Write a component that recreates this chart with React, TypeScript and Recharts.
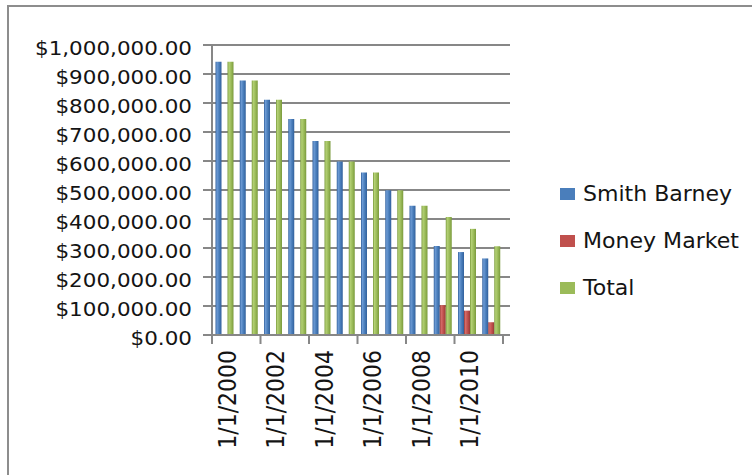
import React from 'react';
import { BarChart, Bar, XAxis, YAxis, CartesianGrid } from 'recharts';

const categories = ['1/1/2000', '1/1/2001', '1/1/2002', '1/1/2003', '1/1/2004', '1/1/2005', '1/1/2006', '1/1/2007', '1/1/2008', '1/1/2009', '1/1/2010', '1/1/2011'];
const smithBarney = [942000, 878000, 811000, 745000, 669000, 598000, 560000, 499000, 446000, 307000, 286000, 264000];
const moneyMarket = [0, 0, 0, 0, 0, 0, 0, 0, 0, 103000, 84000, 44000];
const total = [942000, 878000, 811000, 745000, 669000, 598000, 560000, 499000, 446000, 407000, 366000, 306000];
const yTicks = [0, 100000, 200000, 300000, 400000, 500000, 600000, 700000, 800000, 900000, 1000000];

const seriesNames = ['Smith Barney', 'Money Market', 'Total'];
const seriesKeys = ['sb', 'mm', 'total'];
const seriesColors = ['#4a7ebb', '#c0504d', '#9bbb59'];
const seriesLight = ['#6c9ad4', '#d56b68', '#b3d074'];
const seriesDark = ['#31609c', '#983936', '#7a9a3c'];

const data = categories.map((c, i) => ({ date: c, sb: smithBarney[i], mm: moneyMarket[i], total: total[i] }));

const CHART_W = 740;
const CHART_H = 468;
const PLOT_LEFT = 203;
const PLOT_TOP = 38;
const PLOT_H = 290;
const CAT_W = 291;
const EXTRA = 7;
const BAND = CAT_W / categories.length;
const AXIS_COLOR = '#878787';
const FONT = '"DejaVu Sans", sans-serif';

const fmtMoney = (v: number) =>
  '$' + v.toLocaleString('en-US', { minimumFractionDigits: 2, maximumFractionDigits: 2 });

const YTick = (props: any) => {
  const { x, y, payload } = props;
  return (
    <text transform={`translate(${x}, ${y + 3}) scale(1.13, 1)`} x={0} y={0} textAnchor="end" dominantBaseline="central" fontFamily={FONT} fontSize={19} fill="#141414">
      {fmtMoney(payload.value)}
    </text>
  );
};

const XTick = (props: any) => {
  const { x, y, index } = props;
  const axisY = y - 15;
  const parts: React.ReactNode[] = [];
  if (index % 2 === 0) {
    const bx = x - BAND / 2;
    parts.push(<line key="t" x1={bx} y1={axisY} x2={bx} y2={axisY + 9} stroke={AXIS_COLOR} strokeWidth={2} />);
    parts.push(
      <text key="l" transform={`translate(${x + 3}, ${y}) scale(1.12, 1) rotate(-90)`} x={0} y={0} textAnchor="end" dominantBaseline="central" fontFamily={FONT} fontSize={22} fill="#141414">
        {categories[index]}
      </text>
    );
  }
  if (index === categories.length - 1) {
    const bx = x + BAND / 2;
    parts.push(<line key="e" x1={bx} y1={axisY} x2={bx} y2={axisY + 9} stroke={AXIS_COLOR} strokeWidth={2} />);
  }
  return <g>{parts}</g>;
};

export default function App() {
  return (
    <div
      style={{
        position: 'fixed',
        left: 7,
        top: 5,
        width: 800,
        height: 520,
        border: '2px solid #8d8d8d',
        background: '#ffffff',
      }}
    >
      <div style={{ position: 'absolute', left: 0, top: 0, width: CHART_W, height: CHART_H }}>
        <BarChart
          width={CHART_W}
          height={CHART_H}
          data={data}
          margin={{ top: PLOT_TOP, left: 0, bottom: 0, right: CHART_W - PLOT_LEFT - CAT_W - EXTRA }}
          barCategoryGap={3.5}
          barGap={0}
        >
          <defs>
            {seriesKeys.map((k, i) => (
              <linearGradient key={k} id={`g-${k}`} x1="0" y1="0" x2="1" y2="0">
                <stop offset="0%" stopColor={seriesDark[i]} />
                <stop offset="25%" stopColor={seriesLight[i]} />
                <stop offset="60%" stopColor={seriesColors[i]} />
                <stop offset="100%" stopColor={seriesDark[i]} />
              </linearGradient>
            ))}
          </defs>
          <CartesianGrid vertical={false} stroke={AXIS_COLOR} strokeWidth={2} />
          <XAxis
            dataKey="date"
            interval={0}
            height={CHART_H - PLOT_TOP - PLOT_H}
            padding={{ left: 0, right: EXTRA }}
            tickLine={false}
            tickSize={9}
            tickMargin={6}
            axisLine={{ stroke: AXIS_COLOR, strokeWidth: 2 }}
            tick={<XTick />}
          />
          <YAxis
            width={PLOT_LEFT}
            domain={[0, 1000000]}
            ticks={yTicks}
            interval={0}
            tickSize={9}
            tickMargin={11}
            axisLine={{ stroke: AXIS_COLOR, strokeWidth: 2 }}
            tickLine={{ stroke: AXIS_COLOR, strokeWidth: 2 }}
            tick={<YTick />}
          />
          {seriesKeys.map((k, i) => (
            <Bar key={k} dataKey={k} name={seriesNames[i]} fill={`url(#g-${k})`} isAnimationActive={false} />
          ))}
        </BarChart>
        <div style={{ position: 'absolute', left: 551, top: 163.5, fontFamily: FONT, fontSize: 21, color: '#141414' }}>
          {seriesNames.map((n, i) => (
            <div key={n} style={{ height: 47, display: 'flex', alignItems: 'center', whiteSpace: 'nowrap' }}>
              <span style={{ display: 'inline-block', width: 15, height: 12, background: seriesColors[i], marginRight: 8 }} />
              <span style={{ display: 'inline-block', transform: 'scaleX(1.05)', transformOrigin: 'left center' }}>{n}</span>
            </div>
          ))}
        </div>
      </div>
    </div>
  );
}
